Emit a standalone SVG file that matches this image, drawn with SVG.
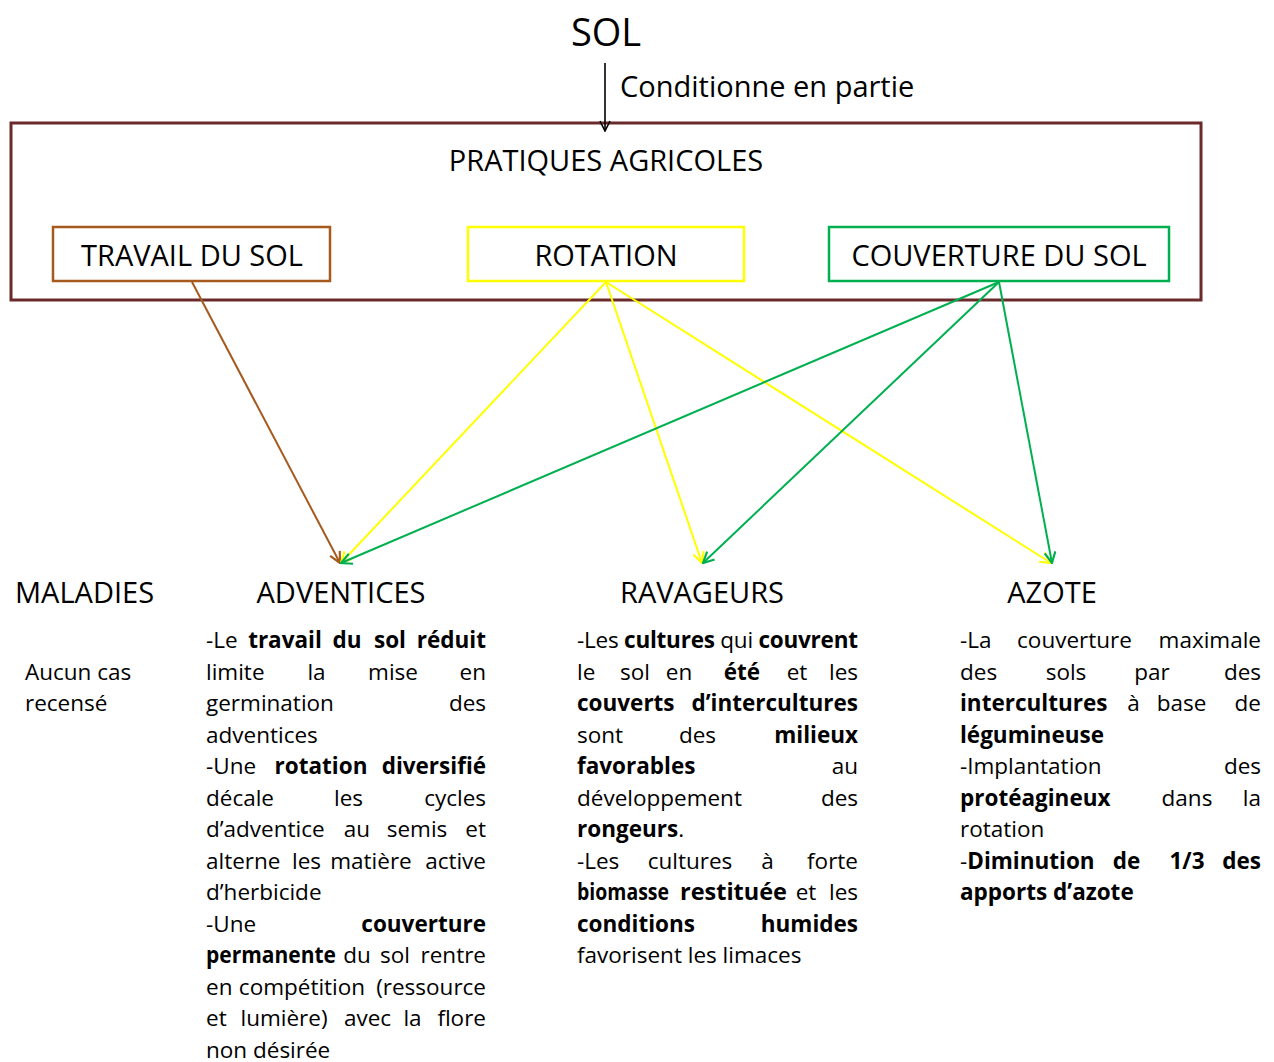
<svg xmlns="http://www.w3.org/2000/svg" width="1274" height="1062" viewBox="0 0 1274 1062">
<style>
text{font-family:"Open Sans","Noto Sans","Liberation Sans",sans-serif;fill:#000}
.h{font-size:29px}
.t{font-size:38px}
.p{font-size:22.5px}
.b{font-weight:bold}
.e{text-anchor:end}
.m{text-anchor:middle}
.box{fill:none}
.ar{fill:none;stroke-width:2}
</style>
<defs>
<marker id="mkBr" viewBox="0 0 12 12" refX="11" refY="6" markerWidth="13" markerHeight="13" markerUnits="userSpaceOnUse" orient="auto">
<path d="M1,1 L11,6 L1,11" fill="none" stroke="#A65A1E" stroke-width="2"/>
</marker>
<marker id="mkY" viewBox="0 0 12 12" refX="11" refY="6" markerWidth="13" markerHeight="13" markerUnits="userSpaceOnUse" orient="auto">
<path d="M1,1 L11,6 L1,11" fill="none" stroke="#FFFF00" stroke-width="2"/>
</marker>
<marker id="mkG" viewBox="0 0 12 12" refX="11" refY="6" markerWidth="13" markerHeight="13" markerUnits="userSpaceOnUse" orient="auto">
<path d="M1,1 L11,6 L1,11" fill="none" stroke="#00B050" stroke-width="2"/>
</marker>
<marker id="mkK" viewBox="0 0 12 12" refX="11" refY="6" markerWidth="12" markerHeight="12" markerUnits="userSpaceOnUse" orient="auto">
<path d="M1,1 L11,6 L1,11" fill="none" stroke="#000" stroke-width="1.6"/>
</marker>
</defs>
<rect width="1274" height="1062" fill="#fff"/>

<g id="sol">
<text class="t m" x="606" y="46">SOL</text>
</g>

<g id="pratiques">
<rect class="box" x="11" y="123" width="1190" height="177" stroke="#6B2A2A" stroke-width="3"/>
<text class="h m" x="606" y="171">PRATIQUES AGRICOLES</text>
</g>

<g id="travail">
<rect class="box" x="53" y="227" width="277" height="54" stroke="#A65A1E" stroke-width="2.5"/>
<text class="h m" x="192" y="266">TRAVAIL DU SOL</text>
</g>
<g id="rotation">
<rect class="box" x="468" y="227" width="276" height="54" stroke="#FFFF00" stroke-width="2.5"/>
<text class="h m" x="606" y="266">ROTATION</text>
</g>
<g id="couverture">
<rect class="box" x="829" y="227" width="340" height="54" stroke="#00B050" stroke-width="2.5"/>
<text class="h m" x="999" y="266">COUVERTURE DU SOL</text>
</g>

<g id="connectors">
<line x1="605" y1="63" x2="605" y2="131" stroke="#000" stroke-width="1.6" marker-end="url(#mkK)"/>
<text class="h" x="620" y="97">Conditionne en partie</text>
<line class="ar" x1="192" y1="282" x2="340" y2="563" stroke="#A65A1E" marker-end="url(#mkBr)"/>
<line class="ar" x1="606" y1="282" x2="341" y2="563" stroke="#FFFF00" marker-end="url(#mkY)"/>
<line class="ar" x1="606" y1="282" x2="702" y2="563" stroke="#FFFF00" marker-end="url(#mkY)"/>
<line class="ar" x1="606" y1="282" x2="1051" y2="563" stroke="#FFFF00" marker-end="url(#mkY)"/>
<line class="ar" x1="999" y1="282" x2="341" y2="563" stroke="#00B050" marker-end="url(#mkG)"/>
<line class="ar" x1="999" y1="282" x2="703" y2="563" stroke="#00B050" marker-end="url(#mkG)"/>
<line class="ar" x1="999" y1="282" x2="1052" y2="563" stroke="#00B050" marker-end="url(#mkG)"/>
</g>

<g id="maladies">
<text class="h" x="15" y="603">MALADIES</text>
<text class="p" x="25" y="679.5">Aucun cas</text>
<text class="p" x="25" y="711">recensé</text>
</g>

<g id="adventices">
<text class="h m" x="341" y="603">ADVENTICES</text>
<text class="p" y="648"><tspan x="206">-Le</tspan><tspan class="b m" x="285">travail</tspan><tspan class="b m" x="347">du</tspan><tspan class="b m" x="390">sol</tspan><tspan class="b e" x="486">réduit</tspan></text>
<text class="p" y="679.5"><tspan x="206">limite</tspan><tspan class="m" x="316.5">la</tspan><tspan class="m" x="393">mise</tspan><tspan class="e" x="486">en</tspan></text>
<text class="p" y="711"><tspan x="206">germination</tspan><tspan class="e" x="486">des</tspan></text>
<text class="p" x="206" y="742.5">adventices</text>
<text class="p" y="774"><tspan x="206">-Une</tspan><tspan class="b m" x="321">rotation</tspan><tspan class="b e" x="486">diversifié</tspan></text>
<text class="p" y="805.5"><tspan x="206">décale</tspan><tspan class="m" x="348.5">les</tspan><tspan class="e" x="486">cycles</tspan></text>
<text class="p" y="837"><tspan x="206">d’adventice</tspan><tspan class="m" x="357">au</tspan><tspan class="m" x="417">semis</tspan><tspan class="e" x="486">et</tspan></text>
<text class="p" y="868.5"><tspan x="206">alterne</tspan><tspan class="m" x="306.5">les</tspan><tspan class="m" x="371">matière</tspan><tspan class="e" x="486">active</tspan></text>
<text class="p" x="206" y="900">d’herbicide</text>
<text class="p" y="931.5"><tspan x="206">-Une</tspan><tspan class="b e" x="486">couverture</tspan></text>
<text class="p" y="963"><tspan class="b" x="206" textLength="130" lengthAdjust="spacingAndGlyphs">permanente</tspan><tspan class="m" x="357">du</tspan><tspan class="m" x="395">sol</tspan><tspan class="e" x="486">rentre</tspan></text>
<text class="p" y="994.5"><tspan x="206">en</tspan><tspan class="m" x="302">compétition</tspan><tspan class="e" x="486">(ressource</tspan></text>
<text class="p" y="1026"><tspan x="206">et</tspan><tspan class="m" x="284">lumière)</tspan><tspan class="m" x="367.5">avec</tspan><tspan class="m" x="412.5">la</tspan><tspan class="e" x="486">flore</tspan></text>
<text class="p" x="206" y="1057.5">non désirée</text>
</g>

<g id="ravageurs">
<text class="h m" x="702" y="603">RAVAGEURS</text>
<text class="p" y="648" x="577" textLength="281" lengthAdjust="spacing">-Les <tspan class="b">cultures</tspan> qui <tspan class="b">couvrent</tspan></text>
<text class="p" y="679.5"><tspan x="577">le</tspan><tspan class="m" x="635">sol</tspan><tspan class="m" x="679">en</tspan><tspan class="b m" x="742">été</tspan><tspan class="m" x="797">et</tspan><tspan class="e" x="858">les</tspan></text>
<text class="p b" y="711"><tspan x="577">couverts</tspan><tspan class="e" x="858">d’intercultures</tspan></text>
<text class="p" y="742.5"><tspan x="577">sont</tspan><tspan class="m" x="697.5">des</tspan><tspan class="b e" x="858">milieux</tspan></text>
<text class="p" y="774"><tspan class="b" x="577">favorables</tspan><tspan class="e" x="858">au</tspan></text>
<text class="p" y="805.5"><tspan x="577">développement</tspan><tspan class="e" x="858">des</tspan></text>
<text class="p" x="577" y="837"><tspan class="b">rongeurs</tspan>.</text>
<text class="p" y="868.5"><tspan x="577">-Les</tspan><tspan class="m" x="690">cultures</tspan><tspan class="m" x="767.5">à</tspan><tspan class="e" x="858">forte</tspan></text>
<text class="p" y="900"><tspan class="b" x="577" textLength="92" lengthAdjust="spacingAndGlyphs">biomasse</tspan><tspan class="b" x="680" textLength="107" lengthAdjust="spacingAndGlyphs">restituée</tspan><tspan class="m" x="806">et</tspan><tspan class="e" x="858">les</tspan></text>
<text class="p b" y="931.5"><tspan x="577">conditions</tspan><tspan class="e" x="858">humides</tspan></text>
<text class="p" x="577" y="963">favorisent les limaces</text>
</g>

<g id="azote">
<text class="h m" x="1052" y="603">AZOTE</text>
<text class="p" y="648"><tspan x="960">-La</tspan><tspan class="m" x="1074.5">couverture</tspan><tspan class="e" x="1261">maximale</tspan></text>
<text class="p" y="679.5"><tspan x="960">des</tspan><tspan class="m" x="1066">sols</tspan><tspan class="m" x="1152">par</tspan><tspan class="e" x="1261">des</tspan></text>
<text class="p" y="711"><tspan class="b" x="960">intercultures</tspan><tspan class="m" x="1133.5">à</tspan><tspan class="m" x="1181.5">base</tspan><tspan class="e" x="1261">de</tspan></text>
<text class="p b" x="960" y="742.5">légumineuse</text>
<text class="p" y="774"><tspan x="960">-Implantation</tspan><tspan class="e" x="1261">des</tspan></text>
<text class="p" y="805.5"><tspan class="b" x="960">protéagineux</tspan><tspan class="m" x="1187">dans</tspan><tspan class="e" x="1261">la</tspan></text>
<text class="p" x="960" y="837">rotation</text>
<text class="p" y="868.5"><tspan x="960">-</tspan><tspan class="b">Diminution</tspan><tspan class="b m" x="1126.5">de</tspan><tspan class="b m" x="1187">1/3</tspan><tspan class="b e" x="1261">des</tspan></text>
<text class="p b" x="960" y="900">apports d’azote</text>
</g>
</svg>
